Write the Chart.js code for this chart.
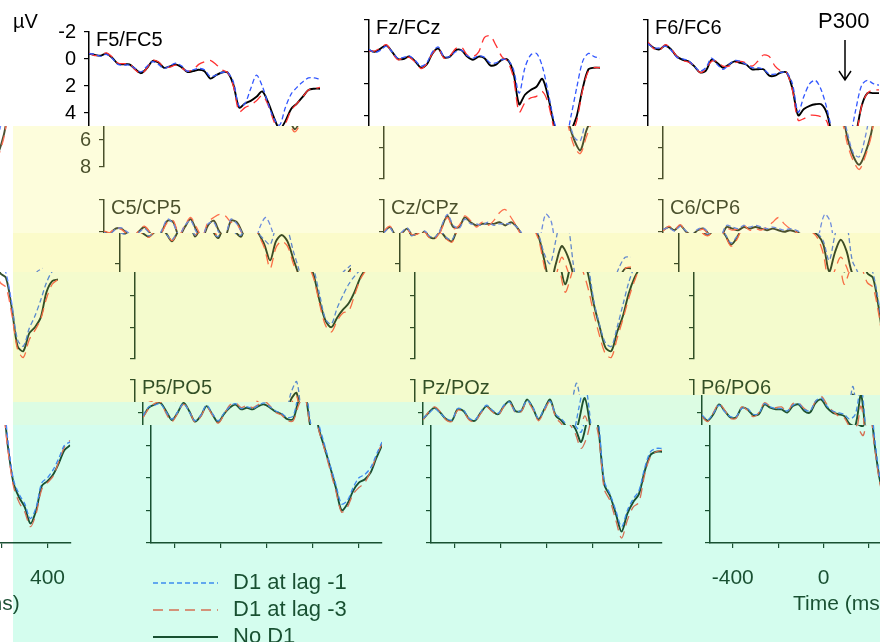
<!DOCTYPE html>
<html>
<head>
<meta charset="utf-8">
<script src="https://cdn.jsdelivr.net/npm/chart.js@4.4.0/dist/chart.umd.min.js"></script>
<style>
  html, body { margin: 0; padding: 0; background: #fff; overflow: hidden; }
  #out { display: block; }
  #work { position: absolute; left: -3000px; top: 0; }
</style>
</head>
<body>
<canvas id="out" width="880" height="642"></canvas>
<div id="work"></div>
<script>
// ---- data (µV, positive plotted downwards) ----
const times = [-500,-475,-450,-425,-400,-375,-350,-325,-300,-275,-250,-225,-200,-175,-150,-125,-100,-75,-50,-25,0,25,50,75,100,125,150,175,200,225,250,275,300,325,350,375,400,425,450,475,500];
const seriesNames = ['D1 at lag -1', 'D1 at lag -3', 'No D1'];
const panelNames = ['F5/FC5','Fz/FCz','F6/FC6','C5/CP5','Cz/CPz','C6/CP6','P5/PO5','Pz/POz','P6/PO6'];
const yTicks = [-2, 0, 2, 4, 6, 8];
const xTicks = [-400, -200, 0, 200, 400];
const xLabelTicks = [-400, 0, 400];

const f5Lag1 = [-0.4,-0.35,-0.2,-0.35,-0.05,0.4,0.45,0.45,0.7,0.95,0.55,0.2,0.4,0.7,0.5,0.3,0.5,0.9,0.8,0.7,0.8,1.3,1.2,1.0,1.0,1.7,3.5,3.3,2.2,1.2,2.0,3.3,4.4,4.9,3.6,2.6,2.1,1.7,1.4,1.4,1.5];
const f5Lag3 = [-0.45,-0.25,-0.3,-0.45,-0.15,0.3,0.35,0.35,0.8,1.1,0.7,0.1,0.2,0.6,0.6,0.45,0.65,0.9,0.8,0.4,0.2,0.1,0.4,0.8,1.0,2.0,3.9,3.6,3.4,3.1,2.7,3.4,4.6,5.4,4.8,3.8,3.3,2.8,2.3,2.2,2.1];
const f5NoD1 = [-0.4,-0.3,-0.25,-0.4,-0.1,0.35,0.4,0.4,0.75,1.05,0.7,0.15,0.25,0.65,0.55,0.4,0.6,0.95,0.9,0.8,0.9,1.45,1.2,1.0,1.0,1.9,3.6,3.3,3.1,2.8,2.4,3.2,4.3,5.2,4.6,3.7,3.3,2.8,2.3,2.2,2.2];

const fzLag1 = [-0.15,0.05,-0.1,-0.35,0.0,0.4,0.35,0.25,0.55,0.9,0.7,0.0,-0.3,0.3,0.3,0.0,-0.1,0.25,0.4,0.25,0.35,0.7,0.7,0.5,0.5,1.1,2.6,1.0,0.2,0.1,0.9,2.5,4.3,5.4,5.6,4.0,2.2,0.6,0.1,0.3,0.4];
const fzLag3 = [-0.05,-0.05,-0.25,-0.45,0.05,0.5,0.4,0.35,0.65,1.05,0.75,0.1,-0.2,0.4,0.25,-0.2,-0.3,0.2,0.3,0.0,-0.9,-1.0,-0.4,0.3,0.6,1.6,3.8,3.2,2.9,2.8,2.5,3.2,4.8,6.0,6.4,5.4,4.3,2.4,1.2,1.0,1.0];
const fzNoD1 = [-0.1,0.0,-0.2,-0.4,0.0,0.45,0.45,0.3,0.6,1.0,0.8,0.1,-0.2,0.35,0.3,-0.1,-0.1,0.3,0.5,0.3,0.4,0.85,0.8,0.5,0.5,1.3,3.3,2.7,2.4,2.2,1.7,2.8,4.5,5.6,6.2,5.0,4.0,2.3,1.1,1.0,1.0];

const f6Lag1 = [-0.5,-0.25,-0.25,-0.35,-0.1,0.35,0.45,0.55,0.9,1.2,1.0,0.4,0.8,1.1,0.8,0.55,0.6,0.8,1.0,1.0,1.1,1.4,1.4,1.3,1.3,2.0,3.8,2.8,2.0,1.8,2.4,3.6,5.2,6.4,6.6,5.4,3.6,2.1,1.8,2.0,2.1];
const f6Lag3 = [-0.6,-0.2,-0.1,-0.45,-0.2,0.3,0.55,0.65,0.85,1.3,1.1,0.6,0.6,0.9,0.9,0.7,0.6,0.7,0.9,0.6,0.2,0.3,0.9,1.2,1.3,2.4,4.3,4.2,4.0,4.0,4.1,4.4,5.9,6.9,7.4,6.6,5.4,3.4,2.6,2.4,2.4];
const f6NoD1 = [-0.55,-0.25,-0.15,-0.4,-0.15,0.3,0.5,0.6,0.9,1.3,1.2,0.5,0.7,1.0,0.8,0.6,0.7,0.8,1.1,1.1,1.1,1.5,1.5,1.3,1.3,2.3,4.0,3.6,3.4,3.3,3.3,3.9,5.5,6.6,7.1,6.4,5.2,3.4,2.6,2.6,2.6];

const c5Lag1 = [0.05,0.15,-0.15,-0.25,0.0,0.25,0.05,-0.2,0.15,0.5,-0.1,-0.8,-0.5,0.2,-0.4,-0.7,0.0,0.3,-0.5,-0.6,0.1,0.2,-0.8,-0.5,0.1,0.5,0.8,-0.3,-0.9,-0.2,1.2,2.4,4.0,5.5,5.8,4.8,4.0,3.3,2.8,2.4,2.1];
const c5Lag3 = [-0.05,0.05,-0.25,-0.15,0.15,0.35,-0.05,-0.35,0.05,0.55,0.05,-0.6,-0.7,0.2,-0.4,-0.9,-0.3,0.3,-0.6,-0.9,-1.1,-1.0,-0.6,-0.5,0.2,1.0,2.3,1.0,0.6,0.9,2.0,3.0,4.6,5.9,6.3,5.6,5.1,5.0,4.0,3.0,2.4];
const c5NoD1 = [0.0,0.1,-0.2,-0.2,0.1,0.3,0.0,-0.3,0.1,0.6,0.0,-0.7,-0.6,0.3,-0.3,-0.8,-0.1,0.4,-0.4,-0.7,0.0,0.3,-0.7,-0.6,0.1,0.8,1.8,0.6,0.2,0.6,1.7,2.8,4.4,5.6,6.0,5.4,4.9,4.5,3.8,2.9,2.3];

const czLag1 = [0.05,-0.25,0.25,0.05,-0.25,0.25,0.35,-0.05,0.35,0.5,-0.4,-1.1,-0.4,-0.2,-0.8,-0.5,-0.5,-0.4,-0.6,-0.4,-0.5,-0.5,-0.5,-0.3,0.2,1.4,2.0,0.5,-1.1,-0.6,2.0,4.4,5.9,7.0,7.2,6.0,4.6,3.2,2.2,1.6,1.6];
const czLag3 = [-0.05,-0.35,0.15,0.15,-0.15,0.35,0.45,0.05,0.45,0.65,-0.2,-0.9,-0.2,-0.4,-1.0,-0.7,-0.3,-0.6,-0.4,-0.7,-1.2,-1.4,-0.9,-0.3,0.5,2.2,3.8,2.8,1.6,2.4,3.6,5.2,6.6,7.7,7.9,6.7,5.5,4.2,3.1,2.3,2.2];
const czNoD1 = [0.0,-0.3,0.2,0.1,-0.2,0.3,0.4,0.0,0.4,0.6,-0.3,-1.0,-0.3,-0.3,-0.9,-0.6,-0.4,-0.5,-0.5,-0.5,-0.6,-0.4,-0.6,-0.3,0.3,1.8,3.3,2.0,0.9,1.5,2.7,4.6,6.0,7.3,7.5,6.3,5.3,3.9,2.9,2.3,2.3];

const c6Lag1 = [-0.15,-0.25,-0.05,-0.35,-0.05,0.15,-0.15,-0.25,0.15,0.7,0.3,-0.4,-0.3,-0.2,-0.4,-0.3,-0.4,-0.3,-0.2,-0.3,-0.2,-0.1,-0.2,-0.1,0.1,0.6,1.8,0.2,-1.1,-0.6,1.8,2.6,4.5,6.8,7.2,6.1,5.3,4.3,3.2,2.5,2.3];
const c6Lag3 = [-0.05,-0.35,-0.15,-0.45,0.05,0.25,-0.05,-0.15,0.25,0.9,0.5,-0.2,-0.1,-0.2,-0.4,-0.1,-0.2,-0.1,-0.3,-0.6,-0.9,-0.5,-0.2,0.0,0.4,1.4,3.3,2.4,1.6,2.2,3.2,3.5,5.2,7.4,7.9,6.8,6.2,5.5,4.2,3.3,3.0];
const c6NoD1 = [-0.1,-0.3,-0.1,-0.4,0.0,0.2,-0.1,-0.2,0.2,0.8,0.4,-0.3,-0.2,-0.1,-0.3,-0.2,-0.3,-0.2,-0.1,-0.2,-0.1,0.0,-0.1,0.0,0.2,0.8,2.5,1.3,0.5,1.2,2.6,2.9,4.8,7.2,7.5,6.4,6.0,5.4,3.8,3.1,3.0];

const p5Lag1 = [0.2,-0.35,-0.45,-0.55,-0.05,0.4,-0.05,-0.55,-0.05,0.5,0.15,-0.45,0.05,0.5,0.05,-0.35,-0.55,-0.25,-0.35,-0.25,-0.45,-0.6,-0.35,-0.1,0.05,0.3,0.2,-1.2,-1.9,0.6,1.9,3.2,4.4,5.6,5.4,4.6,4.0,3.8,3.4,2.6,1.8];
const p5Lag3 = [0.3,-0.25,-0.55,-0.65,0.05,0.55,0.05,-0.5,-0.15,0.6,0.25,-0.35,0.15,0.65,0.15,-0.45,-0.6,-0.3,-0.45,-0.3,-0.5,-0.7,-0.4,0.0,0.15,0.5,0.5,-0.5,-1.0,1.0,2.2,3.5,4.8,6.1,5.8,5.0,4.6,4.3,3.6,2.7,1.9];
const p5NoD1 = [0.25,-0.3,-0.5,-0.6,-0.1,0.45,0.0,-0.6,-0.1,0.55,0.2,-0.4,0.1,0.6,0.1,-0.3,-0.5,-0.2,-0.3,-0.2,-0.4,-0.5,-0.3,-0.05,0.1,0.4,0.4,-0.8,-1.2,0.9,2.1,3.3,4.6,6.0,5.6,4.8,4.3,4.1,3.7,2.8,2.0];

const pzLag1 = [0.35,0.05,-0.25,0.05,0.35,0.45,-0.25,-0.15,0.35,0.45,-0.05,-0.45,-0.15,0.05,-0.45,-0.65,-0.05,-0.15,-0.75,-0.35,0.35,-0.25,-0.7,0.1,0.4,0.8,1.2,-0.3,-1.8,0.5,4.2,5.0,6.0,7.0,6.0,5.3,4.8,3.4,2.4,2.2,2.2];
const pzLag3 = [0.45,-0.05,-0.35,-0.05,0.45,0.55,-0.15,-0.05,0.45,0.55,0.05,-0.35,-0.05,0.15,-0.35,-0.6,0.0,-0.05,-0.7,-0.2,0.5,-0.1,-0.7,0.3,0.7,1.3,2.2,1.5,0.2,1.4,4.7,5.4,6.6,7.7,6.6,5.8,5.5,3.8,2.7,2.4,2.3];
const pzNoD1 = [0.4,0.0,-0.3,0.0,0.4,0.5,-0.2,-0.1,0.4,0.5,0.0,-0.4,-0.1,0.1,-0.4,-0.7,-0.1,-0.1,-0.8,-0.3,0.4,-0.2,-0.8,0.2,0.5,1.0,1.8,0.5,-0.9,1.0,4.4,5.1,6.2,7.3,6.2,5.5,5.0,3.6,2.6,2.4,2.4];

const p6Lag1 = [0.15,0.45,0.05,-0.45,-0.05,0.25,0.25,-0.25,-0.25,0.1,0.05,-0.55,-0.35,-0.25,-0.25,-0.1,-0.45,-0.55,-0.2,-0.1,-0.7,-0.9,-0.4,-0.1,0.0,0.1,0.4,0.1,-1.6,1.6,4.1,5.0,5.6,6.5,5.8,4.3,4.0,3.5,2.8,2.0,1.8];
const p6Lag3 = [0.25,0.55,0.0,-0.55,-0.15,0.35,0.35,-0.35,-0.15,0.25,0.0,-0.6,-0.4,-0.3,-0.35,-0.05,-0.55,-0.6,-0.25,-0.1,-0.7,-1.0,-0.5,-0.1,0.2,0.3,0.9,1.4,-0.4,2.2,4.5,5.5,6.1,7.0,6.2,4.7,4.3,3.9,3.0,2.1,1.7];
const p6NoD1 = [0.2,0.5,0.1,-0.5,-0.1,0.3,0.3,-0.3,-0.2,0.15,0.1,-0.5,-0.3,-0.2,-0.2,0.0,-0.4,-0.5,-0.1,0.0,-0.6,-0.8,-0.3,0.0,0.1,0.2,0.7,0.8,-1.1,2.0,4.3,5.2,5.8,6.8,6.0,4.5,4.2,3.8,3.1,2.3,2.0];

const panelSeries = [
  [f5Lag1, f5Lag3, f5NoD1], [fzLag1, fzLag3, fzNoD1], [f6Lag1, f6Lag3, f6NoD1],
  [c5Lag1, c5Lag3, c5NoD1], [czLag1, czLag3, czNoD1], [c6Lag1, c6Lag3, c6NoD1],
  [p5Lag1, p5Lag3, p5NoD1], [pzLag1, pzLag3, pzNoD1], [p6Lag1, p6Lag3, p6NoD1]
];

// ---- styles / layout ----
const FONT = "'Liberation Sans', Arial, sans-serif";
const lineColors = ['#3358ff', '#ff3030', '#000000'];
const lineDash = [[5, 3], [10, 6], []];
const lineWidth = [1.3, 1.3, 1.9];
const colX = [89, 369, 648];     // y axis position of each column
const rowY = [20, 200, 380];     // y of -2 µV for each row
const plotW = 231, plotH = 163, axisW = 80, padTop = 8, padRight = 10;

// glitch bands: edges are [y left of split, y right of split]
const splitX = 440, wrapW = 867, marginX = 13;
const bandEdges = [[0,0],[126,126],[233,233],[272,272],[402,395],[425,425],[642,642]];
const bandShift = [0, 15, 31, 46, 54, 62];
const bandTint = [null, '#fdfddc', '#fbfbca', '#f4fbcd', '#dcfce3', '#d4fdee'];
const bandInk  = [null, '#4a5032', '#3e4d2e', '#34502e', '#245434', '#1c5034'];

Chart.defaults.font.family = FONT;
Chart.defaults.color = '#000';

function annotate(p) {
  return {
    id: 'annotate',
    afterDraw(chart) {
      const ctx = chart.ctx, a = chart.chartArea;
      const X = v => v - p.ox, Y = v => v - p.oy;
      ctx.save();
      ctx.fillStyle = '#000';
      ctx.strokeStyle = '#000';
      ctx.textBaseline = 'middle';
      ctx.textAlign = 'left';
      ctx.font = '20px ' + FONT;
      ctx.fillText(p.name, a.left + 7, a.top + 8);
      if (p.idx === 0) ctx.fillText('µV', X(13), Y(22));
      if (p.idx === 2) {
        ctx.font = '22px ' + FONT;
        ctx.fillText('P300', X(818), Y(22));
        ctx.lineWidth = 1.5;
        ctx.beginPath();
        ctx.moveTo(X(845), Y(40)); ctx.lineTo(X(845), Y(80));
        ctx.moveTo(X(839), Y(71)); ctx.lineTo(X(845), Y(80)); ctx.lineTo(X(851), Y(71));
        ctx.stroke();
      }
      if (p.idx === 6) {
        const ys = [583, 610, 637];
        ctx.font = '22px ' + FONT;
        seriesNames.forEach((n, i) => {
          ctx.strokeStyle = lineColors[i];
          ctx.lineWidth = lineWidth[i];
          ctx.setLineDash(lineDash[i]);
          ctx.beginPath();
          ctx.moveTo(X(91), Y(ys[i])); ctx.lineTo(X(156), Y(ys[i]));
          ctx.stroke();
          ctx.fillText(n, X(171), Y(ys[i]));
        });
        ctx.setLineDash([]);
      }
      if (p.idx === 8) {
        ctx.font = '21px ' + FONT;
        ctx.fillText('Time (ms)', X(731), Y(604));
      }
      ctx.restore();
    }
  };
}

const work = document.getElementById('work');
const charts = [];
panelNames.forEach((name, idx) => {
  const row = Math.floor(idx / 3), col = idx % 3;
  const p = { name, idx, row, col, ox: colX[col] - axisW, oy: rowY[row] - padTop };
  const cv = document.createElement('canvas');
  cv.width = axisW + plotW + padRight;
  cv.height = row < 2 ? padTop + plotH + 4 : 642 - p.oy;
  work.appendChild(cv);
  const showX = row === 2;
  const chart = new Chart(cv.getContext('2d'), {
    type: 'line',
    data: {
      datasets: panelSeries[idx].map((vals, i) => ({
        label: seriesNames[i],
        data: times.map((t, k) => ({ x: t, y: vals[k] })),
        borderColor: lineColors[i],
        backgroundColor: 'transparent',
        borderWidth: lineWidth[i],
        borderDash: lineDash[i],
        pointRadius: 0,
        tension: 0.3,
        fill: false
      }))
    },
    options: {
      responsive: false,
      animation: false,
      devicePixelRatio: 1,
      events: [],
      layout: { padding: { left: 0, right: padRight, top: padTop, bottom: row < 2 ? 4 : 0 } },
      plugins: { legend: { display: false }, tooltip: { enabled: false } },
      scales: {
        x: {
          type: 'linear', min: -500, max: 500, display: showX,
          afterBuildTicks: s => { s.ticks = xTicks.map(v => ({ value: v })); },
          afterFit: s => { s.height = cv.height - padTop - plotH; },
          grid: { drawOnChartArea: false, drawTicks: true, tickLength: 5, color: '#000', lineWidth: 1.2 },
          border: { display: true, color: '#000', width: 1.5 },
          ticks: {
            display: idx === 8, autoSkip: false, maxRotation: 0, padding: 18,
            color: '#000', font: { size: 21 },
            callback: v => xLabelTicks.includes(v) ? String(v) : ''
          }
        },
        y: {
          type: 'linear', min: -2, max: 8, reverse: true,
          afterBuildTicks: s => { s.ticks = yTicks.map(v => ({ value: v })); },
          afterFit: s => { s.width = axisW; },
          grid: { drawOnChartArea: false, drawTicks: true, tickLength: 5, color: '#000', lineWidth: 1.2 },
          border: { display: true, color: '#000', width: 1.5 },
          ticks: { display: idx === 0, padding: 8, color: '#000', font: { size: 20 } }
        }
      }
    },
    plugins: [annotate(p)]
  });
  charts.push({ chart, p });
});

function composite() {
  const clean = document.createElement('canvas');
  clean.width = 900; clean.height = 642;
  const cc = clean.getContext('2d');
  charts.forEach(({ chart, p }) => { chart.draw(); cc.drawImage(chart.canvas, p.ox, p.oy); });

  const ctx = document.getElementById('out').getContext('2d');
  ctx.fillStyle = '#fff';
  ctx.fillRect(0, 0, 880, 642);
  bandShift.forEach((s, i) => {
    const t = bandEdges[i], b = bandEdges[i + 1];
    ctx.save();
    ctx.beginPath();
    ctx.moveTo(0, t[0]); ctx.lineTo(splitX, t[0]); ctx.lineTo(splitX, t[1]); ctx.lineTo(880, t[1]);
    ctx.lineTo(880, b[1]); ctx.lineTo(splitX, b[1]); ctx.lineTo(splitX, b[0]); ctx.lineTo(0, b[0]);
    ctx.closePath();
    ctx.clip();
    ctx.fillStyle = '#fff';
    ctx.fillRect(0, 0, 880, 642);
    ctx.drawImage(clean, s, 0);
    if (s) ctx.drawImage(clean, s - wrapW, 0);
    if (bandInk[i]) {
      ctx.globalCompositeOperation = 'screen';
      ctx.fillStyle = bandInk[i];
      ctx.fillRect(0, 0, 880, 642);
    }
    if (bandTint[i]) {
      ctx.globalCompositeOperation = 'multiply';
      ctx.fillStyle = bandTint[i];
      ctx.fillRect(marginX, 0, 880 - marginX, 642);
    }
    ctx.restore();
  });
}

composite();
window.addEventListener('load', composite);
</script>
</body>
</html>
